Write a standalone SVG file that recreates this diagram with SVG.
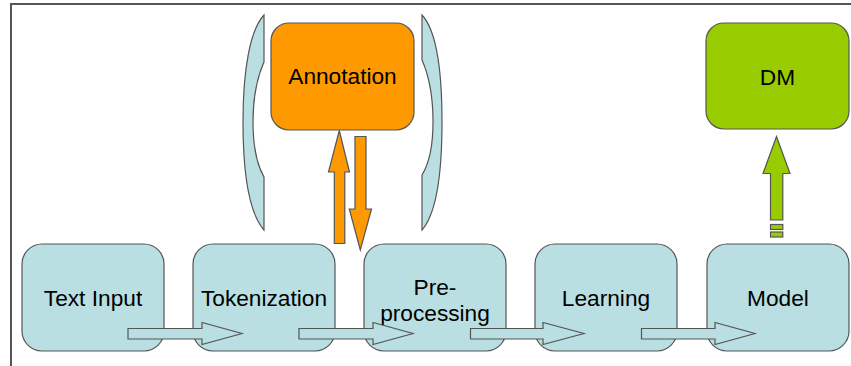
<svg xmlns="http://www.w3.org/2000/svg" width="851" height="366" viewBox="0 0 851 366">
<style>
.box{fill:#b9dfe2;stroke:#555;stroke-width:1.2}
.lbl{font-family:"Liberation Sans",Arial,sans-serif;font-size:22.7px;fill:#000;text-anchor:middle}
.harr{fill:#b9dfe2;stroke:#555;stroke-width:1.2}
.brk{fill:#b9dfe2;stroke:#555;stroke-width:1.2}
.org{fill:#ff9900;stroke:#555;stroke-width:1.2}
.grn{fill:#99cc00;stroke:#555;stroke-width:1.2}
.frame{stroke:#555;stroke-width:2;fill:none}
</style>
<rect width="851" height="366" fill="#fff"/>
<path class="frame" d="M11,366 V4 H851"/>
<g id="brackets">
<path class="brk" d="M264,15 L264,62 C256,80 253,100 253,122 C253,145 256,163 264,177 L264,230 C250,214 243,175 243,122 C243,70 250,30 264,15 Z"/>
<path class="brk" d="M422,15 L422,60 C430,78 433,100 433,122 C433,145 430,162 422,175 L422,230 C436,214 442,175 442,122 C442,70 436,30 422,15 Z"/>
</g>
<g id="annotation">
<rect class="org" x="271" y="23" width="143" height="107" rx="18"/>
<text class="lbl" x="342.5" y="84">Annotation</text>
</g>
<g id="dm">
<rect class="grn" x="706" y="23" width="143" height="106" rx="18"/>
<text class="lbl" x="777.5" y="85">DM</text>
</g>
<g id="text-input">
<rect class="box" x="22" y="244" width="142" height="107" rx="20"/>
<text class="lbl" x="93" y="305.5">Text Input</text>
</g>
<g id="tokenization">
<rect class="box" x="193" y="244" width="142" height="107" rx="20"/>
<text class="lbl" x="264" y="305.5">Tokenization</text>
</g>
<g id="preprocessing">
<rect class="box" x="364" y="244" width="142" height="107" rx="20"/>
<text class="lbl" x="435" y="295">Pre-</text>
<text class="lbl" x="435" y="321">processing</text>
</g>
<g id="learning">
<rect class="box" x="535" y="244" width="142" height="107" rx="20"/>
<text class="lbl" x="606" y="306">Learning</text>
</g>
<g id="model">
<rect class="box" x="707" y="244" width="142" height="107" rx="20"/>
<text class="lbl" x="778" y="306">Model</text>
</g>
<g id="connectors">
<path class="harr" d="M128,328.5 H202 V322.5 L242,333.5 L202,344.5 V339 H128 Z"/>
<path class="harr" d="M299,328.5 H373 V322.5 L413,333.5 L373,344.5 V339 H299 Z"/>
<path class="harr" d="M470.5,328.5 H543 V322.5 L584,333.5 L543,344.5 V339 H470.5 Z"/>
<path class="harr" d="M641.5,328.5 H715 V322.5 L755,333.5 L715,344.5 V339 H641.5 Z"/>
<path class="org" d="M334.3,243.5 V172 H328.5 L339.3,130.5 L349.5,172 H344.8 V243.5 Z"/>
<path class="org" d="M355,136.5 H366 V209 H371.5 L360.3,250 L349.3,209 H355 Z"/>
<path class="grn" d="M770.5,220 V173.5 H763 L776.5,136.5 L790,173.5 H782.8 V220 Z"/>
<rect class="grn" x="770.5" y="224.5" width="12.3" height="5"/>
<rect class="grn" x="770.5" y="232" width="12.3" height="5"/>
</g>
</svg>
